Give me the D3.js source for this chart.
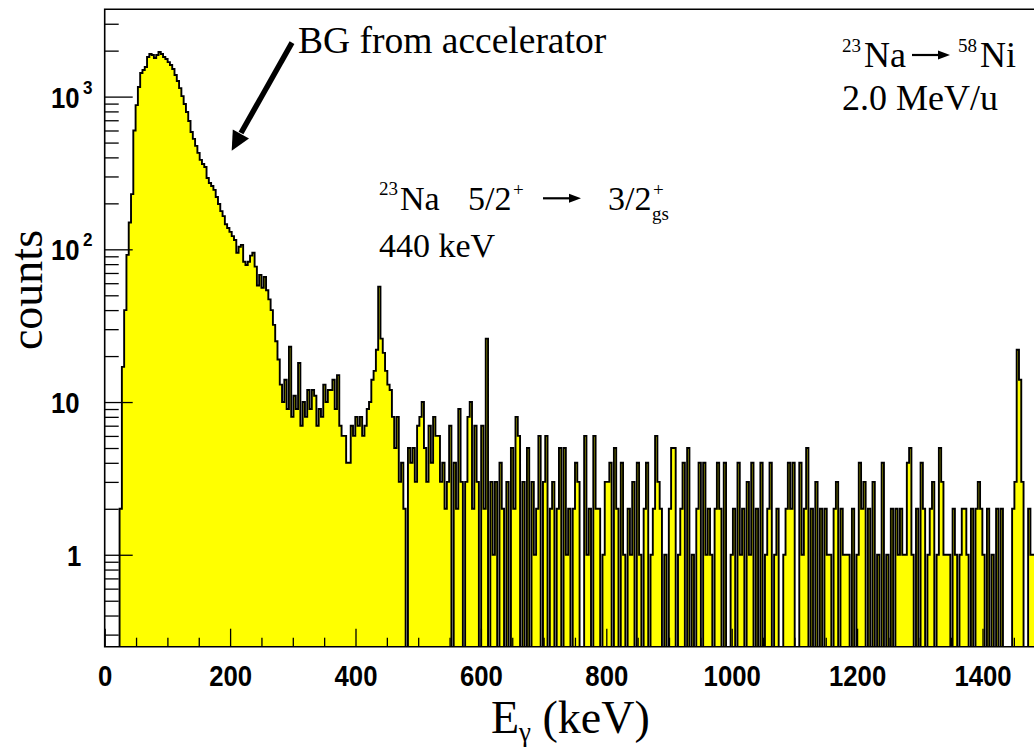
<!DOCTYPE html>
<html>
<head>
<meta charset="utf-8">
<script src="https://cdn.jsdelivr.net/npm/d3@7"></script>
<style>
  html, body { margin: 0; padding: 0; background: #fff; }
  #chart { width: 1034px; height: 751px; }
</style>
</head>
<body>
<div id="chart"></div>
<script>
// one bin = 3.65 keV, bin k is centred on k * BIN_KEV
var BIN_KEV = 3.65;

// bins 0-77 : threshold and accelerator background bump
var countsBump = [
  0, 0, 0, 0, 0, 0, 0, 2, 17, 40, 92, 150, 230, 600, 880,
  1156, 1427, 1494, 1562, 1817, 1900, 1872, 1790, 1872, 1960, 1900, 1817, 1762, 1683, 1609,
  1517, 1384, 1265, 1137, 1008, 895, 793, 693, 587, 529, 476, 428, 385, 362, 346,
  293, 272, 260, 245, 220, 198, 178, 165, 146, 138, 130, 122, 115, 95, 104,
  107, 83, 79, 83, 91, 95, 77, 58, 68, 56, 66, 54, 47, 40, 32,
  25, 19, 13
];
// bins 78-149 : 285-545 keV, with the 440 keV line
var countsLine = [
  10, 14, 9, 23, 8, 11, 9, 18, 7, 10, 8, 12, 9, 12, 11, 7, 9, 8, 13, 10,
  12, 12, 14, 9, 15, 7, 6, 6, 4, 4, 7, 6, 8, 7, 8, 6, 7, 9, 10, 14,
  16, 22, 57, 26, 21, 16, 13, 12, 8, 5, 8, 3, 4, 2, 0, 5, 4, 5, 3, 7,
  8, 10, 5, 3, 7, 4, 8, 6, 6, 3, 4, 2
];
// bins 150-199
var countsTailA = [
  3, 7, 0, 4, 2, 9, 3, 0, 3, 8, 10, 2, 7, 3, 0, 7, 2, 26, 0, 3,
  1, 3, 0, 4, 2, 0, 3, 0, 5, 2, 8, 6, 0, 3, 0, 5, 0, 3, 1, 2,
  6, 0, 3, 6, 0, 2, 3, 0, 2, 5
];
// bins 200-308
var countsTailB = [
  0, 5, 1, 2, 0, 2, 4, 3, 0, 0, 6, 1, 2, 0, 6, 2, 2, 0, 1, 3,
  3, 4, 0, 5, 2, 0, 4, 1, 0, 2, 1, 3, 0, 4, 1, 0, 2, 4, 0, 1,
  2, 6, 3, 2, 0, 1, 0, 2, 5, 5, 0, 1, 2, 4, 0, 5, 0, 1, 0, 2,
  4, 0, 4, 1, 2, 1, 0, 2, 4, 2, 0, 4, 0, 0, 1, 2, 0, 4, 1, 2,
  0, 3, 1, 4, 0, 2, 0, 4, 0, 1, 2, 4, 0, 1, 2, 0, 0, 1, 2, 4,
  2, 4, 0, 0, 4, 1, 2, 5, 0
];
// bins 309-410, with the 1461 keV line
var countsTailC = [
  2, 0, 3, 0, 2, 0, 2, 1, 1, 0, 2, 3, 0, 2, 1, 1, 1, 0, 2, 0,
  1, 4, 2, 3, 0, 2, 0, 3, 0, 1, 0, 4, 0, 1, 0, 2, 0, 2, 1, 2,
  1, 1, 4, 5, 1, 0, 2, 0, 4, 2, 0, 1, 2, 3, 0, 1, 5, 3, 1, 1,
  1, 0, 2, 1, 0, 1, 2, 2, 1, 0, 2, 0, 2, 3, 2, 1, 0, 2, 0, 1,
  0, 2, 0, 2, 0, 0, 0, 0, 2, 3, 22, 14, 3, 0, 0, 2, 1, 1, 2, 1,
  1, 0
];

var xTicks      = [0, 200, 400, 600, 800, 1000, 1200, 1400];
var xTickLabels = ["0", "200", "400", "600", "800", "1000", "1200", "1400"];
var yTicks      = [1, 10, 100, 1000];
var yTickBase   = ["1", "10", "10", "10"];
var yTickExp    = ["", "", "2", "3"];

var W = 1034, H = 751;
var PLOT = { left: 104.7, top: 9.3, bottom: 646.7 };
var PX_PER_KEV = 0.627;

var YELLOW = "#ffff00";
var SERIF  = "'Liberation Serif', 'Times New Roman', serif";
var SANS   = "'Liberation Sans', Arial, sans-serif";

var counts = countsBump.concat(countsLine, countsTailA, countsTailB, countsTailC);

var xScale = d3.scaleLinear()
  .domain([0, 1500])
  .range([PLOT.left, PLOT.left + 1500 * PX_PER_KEV]);

var yScale = d3.scaleLog()
  .domain([0.25, 3730])
  .range([PLOT.bottom, PLOT.top]);

var svg = d3.select("#chart").append("svg")
  .attr("width", W)
  .attr("height", H);

svg.append("defs").append("clipPath").attr("id", "plot-clip")
  .append("rect")
    .attr("x", PLOT.left).attr("y", PLOT.top)
    .attr("width", W - PLOT.left).attr("height", PLOT.bottom - PLOT.top);

// ---- histogram ----
var yLow = PLOT.bottom + 4;
function yOf(c) { return c > 0 ? yScale(c) : yLow; }

var step = "M" + xScale(-0.5 * BIN_KEV) + "," + yLow;
counts.forEach(function (c, k) {
  var x0 = xScale((k - 0.5) * BIN_KEV);
  var x1 = xScale((k + 0.5) * BIN_KEV);
  var y  = yOf(c);
  step += "L" + x0 + "," + y + "L" + x1 + "," + y;
});
var lastX = xScale((counts.length - 0.5) * BIN_KEV);

var hist = svg.append("g").attr("clip-path", "url(#plot-clip)");
hist.append("path")
  .attr("d", step + "L" + lastX + "," + yLow + "Z")
  .attr("fill", YELLOW)
  .attr("stroke", "none");
hist.append("path")
  .attr("d", step)
  .attr("fill", "none")
  .attr("stroke", "#000")
  .attr("stroke-width", 1.9)
  .attr("stroke-linejoin", "miter");

// ---- axes ----
function styleTicks(g) {
  g.select(".domain").remove();
  g.selectAll(".tick line").attr("stroke", "#000").attr("stroke-width", 1.3);
}

var minorX = d3.range(0, 1501, 50).filter(function (v) { return v % 200 !== 0; });
svg.append("g")
  .attr("transform", "translate(0," + PLOT.bottom + ")")
  .call(d3.axisBottom(xScale).tickValues(minorX).tickSize(-9).tickFormat(""))
  .call(styleTicks);

var xAxis = svg.append("g")
  .attr("transform", "translate(0," + PLOT.bottom + ")")
  .call(d3.axisBottom(xScale).tickValues(xTicks).tickSize(-18)
    .tickFormat(function (d, i) { return xTickLabels[i]; }))
  .call(styleTicks);
xAxis.selectAll(".tick text")
  .attr("y", 39)
  .attr("dy", 0)
  .attr("fill", "#000")
  .style("font-family", SANS)
  .style("font-weight", "bold")
  .style("font-size", "30px")
  .attr("textLength", function (d, i) { return xTickLabels[i].length * 14.3; })
  .attr("lengthAdjust", "spacingAndGlyphs");

var minorY = [];
[0.1, 1, 10, 100, 1000].forEach(function (dec) {
  for (var m = 2; m <= 9; m++) {
    var v = m * dec;
    if (v >= 0.25 && v <= 3730) minorY.push(v);
  }
});
svg.append("g")
  .attr("transform", "translate(" + PLOT.left + ",0)")
  .call(d3.axisLeft(yScale).tickValues(minorY).tickSize(-14).tickFormat(""))
  .call(styleTicks);

svg.append("g")
  .attr("transform", "translate(" + PLOT.left + ",0)")
  .call(d3.axisLeft(yScale).tickValues(yTicks).tickSize(-28).tickFormat(""))
  .call(styleTicks);

var yLab = svg.append("g")
  .style("font-family", SANS)
  .style("font-weight", "bold")
  .attr("fill", "#000");
yTicks.forEach(function (v, i) {
  var y = yScale(v);
  yLab.append("text")
    .attr("x", yTickBase[i] === "1" ? 67 : 51)
    .attr("y", y + 11)
    .style("font-size", "30px")
    .attr("textLength", yTickBase[i].length * 14.3)
    .attr("lengthAdjust", "spacingAndGlyphs")
    .text(yTickBase[i]);
  if (yTickExp[i]) {
    yLab.append("text")
      .attr("x", 83)
      .attr("y", y - 3)
      .style("font-size", "19px")
      .attr("textLength", 9.5)
      .attr("lengthAdjust", "spacingAndGlyphs")
      .text(yTickExp[i]);
  }
});

// frame
svg.append("path")
  .attr("d", "M" + xScale(1500) + "," + PLOT.top + "H" + PLOT.left + "V" + PLOT.bottom + "H" + xScale(1500))
  .attr("fill", "none")
  .attr("stroke", "#000")
  .attr("stroke-width", 1.6);

// ---- titles ----
svg.append("text")
  .attr("transform", "translate(42,290) rotate(-90)")
  .attr("text-anchor", "middle")
  .style("font-family", SERIF)
  .style("font-size", "46px")
  .text("counts");

var xt = svg.append("text")
  .attr("x", 491)
  .attr("y", 733)
  .style("font-family", SERIF)
  .style("font-size", "46px");
xt.append("tspan").text("E");
xt.append("tspan").attr("dy", 8).style("font-size", "27px").text("γ");
xt.append("tspan").attr("dy", -8).text(" (keV)");

// ---- annotations ----
var ann = svg.append("g").style("font-family", SERIF).attr("fill", "#000");

ann.append("text").attr("x", 298).attr("y", 53).style("font-size", "37.5px").text("BG from accelerator");

// big arrow towards the bump
ann.append("line")
  .attr("x1", 292).attr("y1", 42.7).attr("x2", 241).attr("y2", 133)
  .attr("stroke", "#000").attr("stroke-width", 5.5);
ann.append("path")
  .attr("d", "M231.7,150.7L232.8,129.5L249,138.5Z")
  .attr("fill", "#000");

function smallArrow(x0, x1, y) {
  ann.append("line").attr("x1", x0).attr("y1", y).attr("x2", x1 - 8).attr("y2", y)
    .attr("stroke", "#000").attr("stroke-width", 2.2);
  ann.append("path")
    .attr("d", "M" + x1 + "," + y + "L" + (x1 - 12) + "," + (y - 4.5) + "L" + (x1 - 12) + "," + (y + 4.5) + "Z")
    .attr("fill", "#000");
}

// reaction
ann.append("text").attr("x", 842).attr("y", 52).style("font-size", "19px").text("23");
ann.append("text").attr("x", 864).attr("y", 66.7).style("font-size", "36px").text("Na");
smallArrow(912, 950, 55);
ann.append("text").attr("x", 958).attr("y", 52).style("font-size", "19px").text("58");
ann.append("text").attr("x", 980).attr("y", 66.7).style("font-size", "36px").text("Ni");
ann.append("text").attr("x", 842).attr("y", 110).style("font-size", "36px").text("2.0 MeV/u");

// transition
ann.append("text").attr("x", 379).attr("y", 195).style("font-size", "19px").text("23");
ann.append("text").attr("x", 400).attr("y", 210).style("font-size", "34px").text("Na");
ann.append("text").attr("x", 468).attr("y", 210).style("font-size", "34px").text("5/2");
ann.append("text").attr("x", 513).attr("y", 196).style("font-size", "19px").text("+");
smallArrow(543, 581, 198.3);
ann.append("text").attr("x", 608).attr("y", 210).style("font-size", "34px").text("3/2");
ann.append("text").attr("x", 653).attr("y", 196).style("font-size", "19px").text("+");
ann.append("text").attr("x", 652).attr("y", 220).style("font-size", "19px").text("gs");
ann.append("text").attr("x", 379).attr("y", 256.7).style("font-size", "34px").text("440 keV");
</script>
</body>
</html>
